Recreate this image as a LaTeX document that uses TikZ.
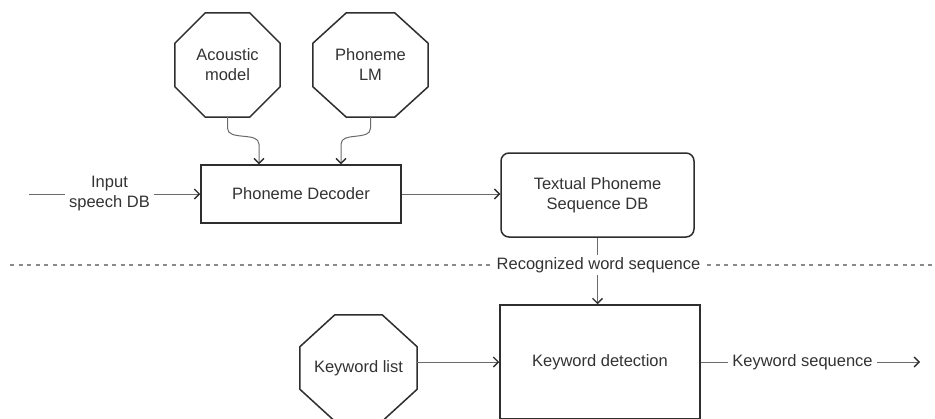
\documentclass[tikz,border=0pt]{standalone}
\usepackage{fontspec}
\setmainfont{Liberation Sans}
\usetikzlibrary{arrows.meta,calc}

\definecolor{ink}{HTML}{333333}
\definecolor{edgec}{HTML}{2E2E2E}
\definecolor{wire}{HTML}{6A6A6A}
\definecolor{sepc}{HTML}{8A8A8A}

% octagon outline around a (borderless) node: name, horizontal cut, vertical cut
\newcommand{\octagonpath}[3]{%
  ($(#1.north west)+(#2,0)$) -- ($(#1.north east)+(-#2,0)$) --
  ($(#1.north east)+(0,#3)$) -- ($(#1.south east)+(0,-#3)$) --
  ($(#1.south east)+(-#2,0)$) -- ($(#1.south west)+(#2,0)$) --
  ($(#1.south west)+(0,-#3)$) -- ($(#1.north west)+(0,#3)$) -- cycle}

\tikzset{
  lbl/.style={text=ink, font=\fontsize{16.5}{20}\selectfont, align=center, inner sep=0pt},
  blockbox/.style={lbl, draw=edgec, line width=1.5pt},
  octnode/.style={lbl},
  octline/.style={draw=edgec, line width=1.5pt, line join=miter},
  wireline/.style={draw=wire, line width=1pt,
    -{Straight Barb[length=5pt,width=10pt,line width=1.3pt,color=edgec]}},
  sepline/.style={draw=sepc, line width=1.2pt, dash pattern=on 4pt off 4.5pt},
  tag/.style={lbl, fill=white, inner xsep=3pt, inner ysep=1.5pt},
}

\begin{document}
\begin{tikzpicture}[x=1pt, y=-1pt]
  \fill[white] (0,0) rectangle (935,418);
  \useasboundingbox (0,0) rectangle (935,418);

  % knowledge sources
  \node[octnode, minimum width=105pt, minimum height=104pt] (am) at (227.5,65) {Acoustic\\model};
  \draw[octline] \octagonpath{am}{30.5}{30.5};
  \node[octnode, minimum width=115pt, minimum height=104pt] (lm) at (370.5,65) {Phoneme\\LM};
  \draw[octline] \octagonpath{lm}{33.5}{30.5};

  % upper chain
  \node[blockbox, minimum width=200pt, minimum height=58pt] (pd) at (301,194) {Phoneme Decoder};
  \node[blockbox, rounded corners=8pt, minimum width=193pt, minimum height=84pt] (tp) at (597.5,195) {Textual Phoneme\\Sequence DB};

  \coordinate (in) at (29,194);
  \draw[wireline] (in) -- (pd.west);
  \node[tag, inner xsep=4.5pt] (isd) at (109.5,194) {Input\\speech DB};

  \draw[wireline] (am.south) -- ++(0,11) .. controls +(0,13) and +(0,-13) .. ($(pd.north)+(-42,-20)$) -- ($(pd.north)+(-42,0)$);
  \draw[wireline] (lm.south) -- ++(0,11) .. controls +(0,13) and +(0,-13) .. ($(pd.north)+(40,-20)$) -- ($(pd.north)+(40,0)$);

  \draw[wireline] (pd.east) -- (pd.east -| tp.west);

  % separator between the two stages
  \draw[sepline] (10,265) -- (935,265);

  % lower chain
  \node[blockbox, minimum width=200pt, minimum height=114pt] (kd) at (600,362) {Keyword detection};
  \node[octnode, minimum width=117pt, minimum height=106pt] (kl) at (358.5,368) {Keyword list};
  \draw[octline] \octagonpath{kl}{35}{32};

  \draw[wireline] (tp.south) -- (tp.south |- kd.north);
  \node[tag, inner xsep=2.5pt, inner ysep=2pt] (rws) at (598.5,265) {Recognized word sequence};

  \draw[wireline] (kl.east |- kd.west) -- (kd.west);

  \coordinate (out) at (920,362);
  \draw[wireline] (kd.east) -- (out);
  \node[tag, inner xsep=4pt] (ks) at (802.5,362) {Keyword sequence};
\end{tikzpicture}
\end{document}
